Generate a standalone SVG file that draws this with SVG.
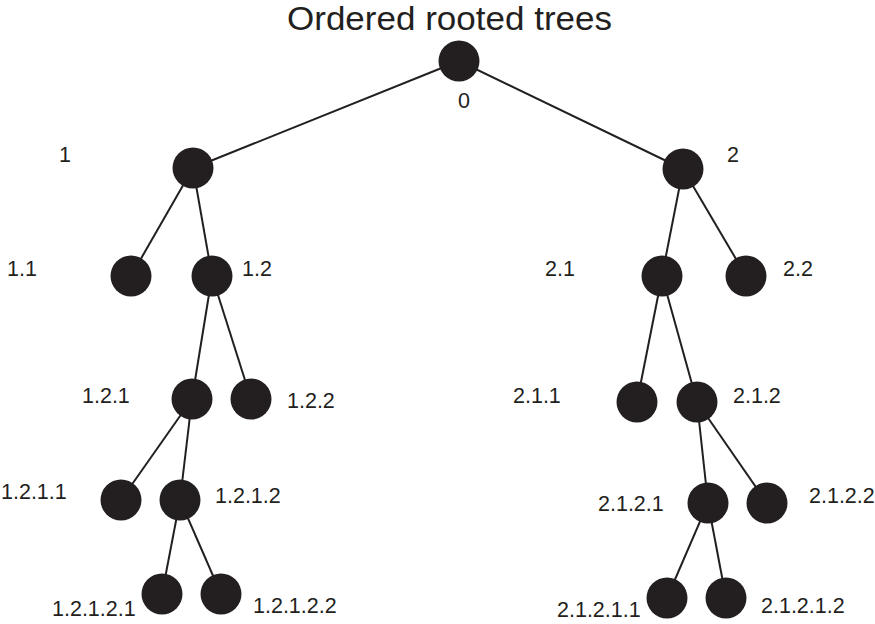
<svg xmlns="http://www.w3.org/2000/svg" width="875" height="624" viewBox="0 0 875 624">
<style>
.n{fill:#231f20}
.e line{stroke:#231f20;stroke-width:2}
text{font-family:"Liberation Sans",Arial,sans-serif;font-size:21.5px;fill:#231f20}
.t{font-size:34px}
</style>
<rect width="875" height="624" fill="#fff"/>
<text class="t" x="287" y="30" textLength="325" lengthAdjust="spacingAndGlyphs">Ordered rooted trees</text>
<g class="e" id="connectors">
<line x1="459" y1="61" x2="193" y2="168"/>
<line x1="459" y1="61" x2="683" y2="169"/>
<line x1="193" y1="168" x2="131" y2="276"/>
<line x1="193" y1="168" x2="212" y2="276"/>
<line x1="212" y1="276" x2="192" y2="399"/>
<line x1="212" y1="276" x2="251" y2="399"/>
<line x1="192" y1="399" x2="121" y2="500"/>
<line x1="192" y1="399" x2="180" y2="500"/>
<line x1="180" y1="500" x2="162" y2="594"/>
<line x1="180" y1="500" x2="221" y2="594"/>
<line x1="683" y1="169" x2="662" y2="276"/>
<line x1="683" y1="169" x2="746" y2="276"/>
<line x1="662" y1="276" x2="637" y2="402"/>
<line x1="662" y1="276" x2="697" y2="402"/>
<line x1="697" y1="402" x2="708" y2="503"/>
<line x1="697" y1="402" x2="767" y2="503"/>
<line x1="708" y1="503" x2="667" y2="598"/>
<line x1="708" y1="503" x2="726" y2="598"/>
</g>
<g id="n0"><circle class="n" cx="459" cy="61" r="20.5"/><text x="458" y="108">0</text></g>
<g id="n1"><circle class="n" cx="193" cy="168" r="20.5"/><text x="59" y="162">1</text></g>
<g id="n1_1"><circle class="n" cx="131" cy="276" r="20.5"/><text x="7" y="276">1.1</text></g>
<g id="n1_2"><circle class="n" cx="212" cy="276" r="20.5"/><text x="242" y="276">1.2</text></g>
<g id="n1_2_1"><circle class="n" cx="192" cy="399" r="20.5"/><text x="82" y="403">1.2.1</text></g>
<g id="n1_2_2"><circle class="n" cx="251" cy="399" r="20.5"/><text x="287" y="408">1.2.2</text></g>
<g id="n1_2_1_1"><circle class="n" cx="121" cy="500" r="20.5"/><text x="1" y="499">1.2.1.1</text></g>
<g id="n1_2_1_2"><circle class="n" cx="180" cy="500" r="20.5"/><text x="215" y="503">1.2.1.2</text></g>
<g id="n1_2_1_2_1"><circle class="n" cx="162" cy="594" r="20.5"/><text x="52" y="616">1.2.1.2.1</text></g>
<g id="n1_2_1_2_2"><circle class="n" cx="221" cy="594" r="20.5"/><text x="253" y="613">1.2.1.2.2</text></g>
<g id="n2"><circle class="n" cx="683" cy="169" r="20.5"/><text x="727" y="162">2</text></g>
<g id="n2_1"><circle class="n" cx="662" cy="276" r="20.5"/><text x="545" y="276">2.1</text></g>
<g id="n2_2"><circle class="n" cx="746" cy="276" r="20.5"/><text x="783" y="276">2.2</text></g>
<g id="n2_1_1"><circle class="n" cx="637" cy="402" r="20.5"/><text x="513" y="403">2.1.1</text></g>
<g id="n2_1_2"><circle class="n" cx="697" cy="402" r="20.5"/><text x="733" y="403">2.1.2</text></g>
<g id="n2_1_2_1"><circle class="n" cx="708" cy="503" r="20.5"/><text x="598" y="511">2.1.2.1</text></g>
<g id="n2_1_2_2"><circle class="n" cx="767" cy="503" r="20.5"/><text x="809" y="503">2.1.2.2</text></g>
<g id="n2_1_2_1_1"><circle class="n" cx="667" cy="598" r="20.5"/><text x="557" y="617">2.1.2.1.1</text></g>
<g id="n2_1_2_1_2"><circle class="n" cx="726" cy="598" r="20.5"/><text x="761" y="613">2.1.2.1.2</text></g>
</svg>
